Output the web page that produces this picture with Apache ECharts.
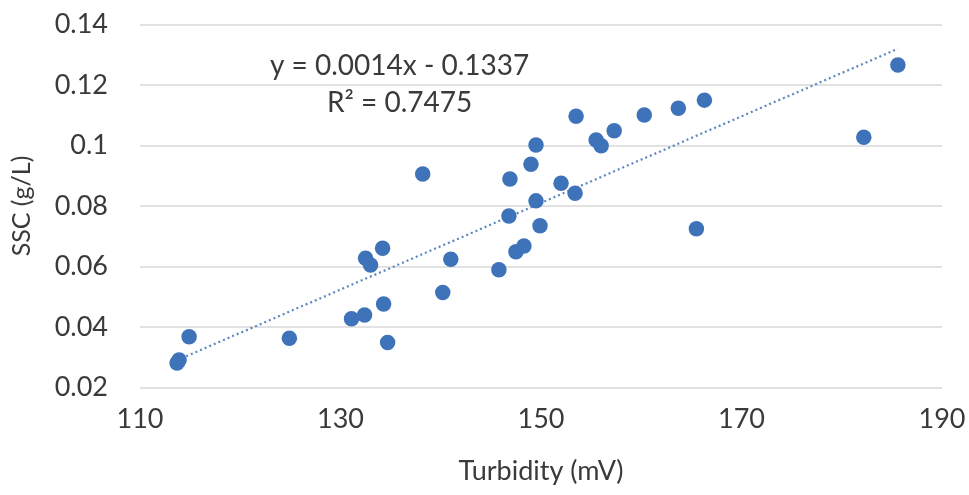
<!DOCTYPE html>
<html>
<head>
<meta charset="utf-8">
<script src="https://cdn.jsdelivr.net/npm/echarts@6/dist/echarts.min.js"></script>
<style>
html,body{margin:0;padding:0;background:#fff;}
#chart{width:969px;height:495px;}
</style>
</head>
<body>
<div id="chart"></div>
<script>
// Turbidity (mV)
const turbidity = [113.7, 113.9, 114.9, 124.9, 131.1, 132.4, 134.3, 134.7, 132.5, 133.0,
  134.2, 138.2, 140.2, 141.0, 145.8, 146.9, 146.8, 147.5, 148.3, 149.0,
  149.5, 149.5, 149.9, 152.0, 153.4, 153.5, 155.5, 156.0, 157.3, 160.3,
  163.7, 166.3, 165.5, 182.2, 185.6];
// SSC (g/L)
const ssc = [0.0281, 0.0291, 0.0368, 0.0363, 0.0427, 0.0440, 0.0476, 0.0349, 0.0627, 0.0605,
  0.0660, 0.0906, 0.0514, 0.0624, 0.0589, 0.0889, 0.0767, 0.0649, 0.0668, 0.0938,
  0.1002, 0.0817, 0.0735, 0.0875, 0.0842, 0.1097, 0.1018, 0.0999, 0.1049, 0.1101,
  0.1123, 0.1150, 0.0725, 0.1027, 0.1266];
const xTicks = [110, 130, 150, 170, 190];
const yTicks = [0.02, 0.04, 0.06, 0.08, 0.1, 0.12, 0.14];
const eqText = 'y = 0.0014x - 0.1337';
const r2Text = 'R² = 0.7475';

// least-squares trendline from the data
const n = turbidity.length;
let sx = 0, sy = 0, sxx = 0, sxy = 0;
for (let i = 0; i < n; i++) { sx += turbidity[i]; sy += ssc[i]; sxx += turbidity[i]*turbidity[i]; sxy += turbidity[i]*ssc[i]; }
const slope = (n*sxy - sx*sy) / (n*sxx - sx*sx);
const icpt = (sy - slope*sx) / n;
const xMin = Math.min(...turbidity), xMax = Math.max(...turbidity);
const trend = [[xMin, slope*xMin + icpt], [xMax, slope*xMax + icpt]];

const pts = turbidity.map((x, i) => [x, ssc[i]]);
const FONT = 'Lato';
const TXT = '#3a3a3a';
const BLUE = '#3F73B9';

const chart = echarts.init(document.getElementById('chart'), null, {renderer: 'canvas'});
chart.setOption({
  animation: false,
  backgroundColor: '#ffffff',
  grid: {left: 140, right: 27, top: 24.5, bottom: 107.5, containLabel: false},
  xAxis: {
    type: 'value', min: xTicks[0], max: xTicks[xTicks.length-1], interval: 20,
    axisLine: {show: false}, axisTick: {show: false}, splitLine: {show: false},
    axisLabel: {color: TXT, fontFamily: FONT, fontSize: 27, margin: 18},
    name: 'Turbidity (mV)', nameLocation: 'middle', nameGap: 70,
    nameTextStyle: {color: TXT, fontFamily: FONT, fontSize: 27}
  },
  yAxis: {
    type: 'value', min: yTicks[0], max: yTicks[yTicks.length-1], interval: 0.02,
    axisLine: {show: false}, axisTick: {show: false},
    splitLine: {show: true, lineStyle: {color: '#d9d9d9', width: 1.5}},
    axisLabel: {color: TXT, fontFamily: FONT, fontSize: 27, margin: 32,
      formatter: v => String(+v.toFixed(2))},
    name: 'SSC (g/L)', nameLocation: 'middle', nameGap: 106, nameRotate: 90,
    nameTextStyle: {color: TXT, fontFamily: FONT, fontSize: 25}
  },
  graphic: [
    {type: 'text', left: 270, top: 52, style: {text: eqText, fill: TXT, font: '28px Lato'}},
    {type: 'text', left: 327, top: 89, style: {text: r2Text, fill: TXT, font: '28px Lato'}}
  ],
  series: [
    {
      type: 'line', data: trend, symbol: 'none', silent: true, z: 1,
      lineStyle: {color: '#5B86C0', width: 2.2, type: [2, 3]}
    },
    {
      type: 'scatter', data: pts, symbol: 'circle', symbolSize: 15.5, z: 2,
      itemStyle: {color: BLUE, opacity: 1}
    }
  ]
});
</script>
</body>
</html>
